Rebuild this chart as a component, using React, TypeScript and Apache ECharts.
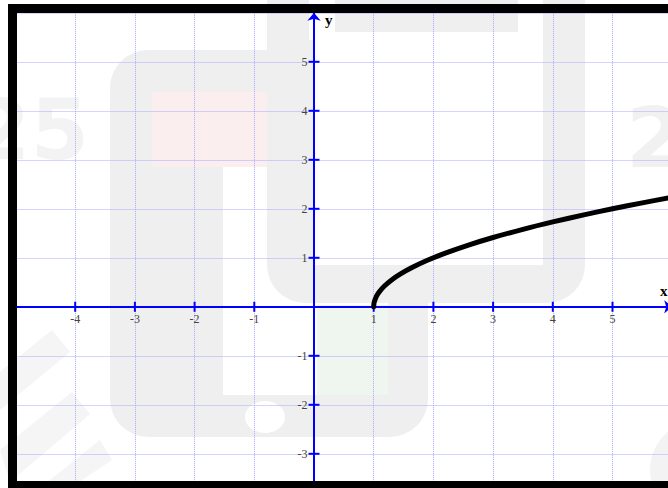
import React, { useEffect, useRef } from "react";
import * as echarts from "echarts";

// Axis ranges and tick values
const xRange = [-5, 6];
const yRange = [-4, 6];
const xTickValues = [-4, -3, -2, -1, 1, 2, 3, 4, 5];
const yTickValues = [-3, -2, -1, 1, 2, 3, 4, 5];

// Curve points
const curveX = [1, 1.003, 1.01, 1.03, 1.06, 1.1, 1.18, 1.3, 1.45, 1.65, 1.9, 2.2, 2.6, 3, 3.5, 4, 4.5, 5, 5.5, 6];
const curveY = [0, 0.055, 0.1, 0.17, 0.245, 0.316, 0.424, 0.548, 0.671, 0.806, 0.949, 1.095, 1.265, 1.414, 1.581, 1.732, 1.871, 2.0, 2.121, 2.236];

const SERIF = "'Liberation Serif', 'DejaVu Serif', serif";

export default function App() {
  const ref = useRef<HTMLDivElement>(null);
  useEffect(() => {
    if (!ref.current) return;
    const chart = echarts.init(ref.current, null, { renderer: "svg" });
    const wm = "#efefef";
    const splitStyle = { color: "#a8a8ff", type: [1, 1], width: 1 };
    const axisLineStyle = {
      onZero: true,
      symbol: ["none", "arrow"],
      symbolSize: [10, 8],
      lineStyle: { color: "#0000ff", width: 2 },
    };
    const tickLabel = {
      show: true,
      color: "#4a4236",
      fontFamily: SERIF,
      fontSize: 12,
    };
    const option: any = {
      animation: false,
      backgroundColor: "#ffffff",
      grid: {
        left: 15.5,
        top: 12.8,
        width: 656.7,
        height: 490,
        containLabel: false,
        outerBoundsMode: "none",
      },
      xAxis: {
        type: "value",
        min: xRange[0],
        max: xRange[1],
        interval: 1,
        axisLine: axisLineStyle,
        axisTick: { show: false },
        axisLabel: { show: false },
        splitLine: { show: true, lineStyle: splitStyle },
      },
      yAxis: {
        type: "value",
        min: yRange[0],
        max: yRange[1],
        interval: 1,
        axisLine: axisLineStyle,
        axisTick: { show: false },
        axisLabel: { show: false },
        splitLine: { show: true, lineStyle: splitStyle },
      },
      series: [
        {
          type: "scatter",
          symbol: "rect",
          symbolSize: [2, 10],
          itemStyle: { color: "#0000ff", opacity: 1 },
          data: xTickValues.map((v) => [v, 0]),
          label: { ...tickLabel, position: "bottom", distance: 1, formatter: (p: any) => String(p.value[0]) },
          silent: true,
          z: 3,
        },
        {
          type: "scatter",
          symbol: "rect",
          symbolSize: [11, 2],
          itemStyle: { color: "#0000ff", opacity: 1 },
          data: yTickValues.map((v) => [0, v]),
          label: { ...tickLabel, position: "left", distance: 1, formatter: (p: any) => String(p.value[1]) },
          silent: true,
          z: 3,
        },
        {
          type: "line",
          data: curveX.map((x, i) => [x, curveY[i]]),
          showSymbol: false,
          smooth: 0.3,
          lineStyle: { color: "#000", width: 5, cap: "round", join: "round" },
          z: 5,
        },
      ],
      graphic: [
        // watermark (behind everything)
        { type: "text", z: -20, left: -28, top: 88, style: { text: "25", fill: "#f3f3f3", font: "bold 84px 'DejaVu Sans', sans-serif" } },
        { type: "text", z: -20, left: 626, top: 96, style: { text: "2", fill: "#f1f1f1", font: "bold 84px 'DejaVu Sans', sans-serif" } },
        { type: "polygon", z: -20, shape: { points: [[0, 372], [52, 330], [70, 352], [0, 410]] }, style: { fill: "#f5f5f5" } },
        { type: "polygon", z: -20, shape: { points: [[0, 450], [72, 392], [90, 414], [10, 482]] }, style: { fill: "#f5f5f5" } },
        { type: "polygon", z: -20, shape: { points: [[40, 488], [100, 440], [112, 460], [70, 488]] }, style: { fill: "#f5f5f5" } },
        { type: "circle", z: -20, shape: { cx: 700, cy: 470, r: 50 }, style: { fill: "#f3f3f3" } },
        { type: "rect", z: -19, shape: { x: 110, y: 50, width: 318, height: 387, r: 38 }, style: { fill: wm } },
        { type: "rect", z: -18, shape: { x: 223, y: 167, width: 165, height: 228 }, style: { fill: "#ffffff" } },
        { type: "rect", z: -17, shape: { x: 267, y: -40, width: 318, height: 343, r: 38 }, style: { fill: wm } },
        { type: "rect", z: -16, shape: { x: 313, y: 32, width: 230, height: 233 }, style: { fill: "#ffffff" } },
        { type: "rect", z: -16, shape: { x: 309, y: -10, width: 26, height: 50 }, style: { fill: "#ffffff" } },
        { type: "rect", z: -16, shape: { x: 518, y: -10, width: 25, height: 50 }, style: { fill: "#ffffff" } },
        { type: "rect", z: -15, shape: { x: 152, y: 92, width: 115, height: 75 }, style: { fill: "#fbeeee" } },
        { type: "rect", z: -15, shape: { x: 317, y: 305, width: 71, height: 90 }, style: { fill: "#eef6ef" } },
        { type: "ellipse", z: -15, shape: { cx: 265, cy: 417, rx: 20, ry: 16 }, style: { fill: "#ffffff" } },
        // axis names
        { type: "text", z: 50, left: 660, top: 283, style: { text: "x", fill: "#000", font: `bold 15px ${SERIF}` } },
        { type: "text", z: 50, left: 325, top: 12, style: { text: "y", fill: "#000", font: `bold 15px ${SERIF}` } },
        // frame
        { type: "rect", z: 100, shape: { x: 8, y: 4, width: 670, height: 9 }, style: { fill: "#000" } },
        { type: "rect", z: 100, shape: { x: 8, y: 4, width: 9, height: 490 }, style: { fill: "#000" } },
        { type: "rect", z: 100, shape: { x: 8, y: 481, width: 670, height: 10 }, style: { fill: "#000" } },
      ],
    };
    chart.setOption(option);
    return () => chart.dispose();
  }, []);
  return (
    <div
      ref={ref}
      style={{ position: "absolute", left: 0, top: 0, width: 668, height: 488 }}
    />
  );
}
